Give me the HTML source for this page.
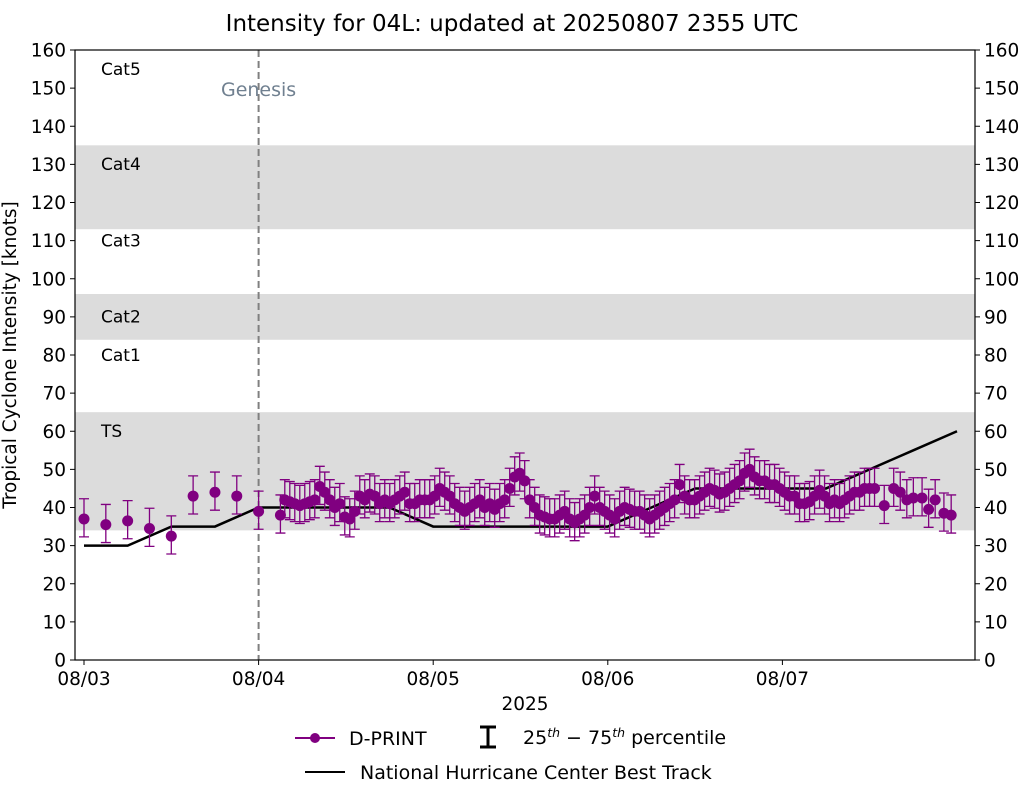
<!DOCTYPE html>
<html><head><meta charset="utf-8"><style>
body{margin:0;background:#fff;font-family:"Liberation Sans","DejaVu Sans",sans-serif;}
svg text{font-family:"DejaVu Sans","Liberation Sans",sans-serif;}
</style></head><body>
<svg id="c" width="1025" height="785" xmlns="http://www.w3.org/2000/svg"></svg>
<script>
const yTicks=[0,10,20,30,40,50,60,70,80,90,100,110,120,130,140,150,160];
const xTickDays=[0,1,2,3,4];
const xTickLabels=["08/03","08/04","08/05","08/06","08/07"];
const bands=[[34,65],[84,96],[113,135]];
const catLabels=["TS","Cat1","Cat2","Cat3","Cat4","Cat5"];
const catLabelVals=[59,79,89,109,129,154];
const earlyHours=[0,3,6,9,12,15,18,21,24,27];
const earlyVals=[37,35.5,36.5,34.5,32.5,43,44,43,39,38];
const denseStartHour=27.6, denseStepHour=0.687;
const denseVals=[42,41.5,41,40.5,41,41.5,42,45.5,44,42,40,41,37.5,37,39,43,42,43.5,43,41,42,41,42,43,44,41,41,42,42,42,43,45,44,43,41,40,39,40,41,42,40,41,39.5,41,42,45,48,49,47,42,40,38,37.5,37,37,38,39,37,36,37,38,40,43,40,39,38,37,39,40,39.5,39,39,38,37,38,39,40,41,42,46,43,42,42,43,44,45,44.5,43.5,44,45,46,47,49,50,48,47,47,46,46,45,44,43,43,41,41,41.5,43,44.5,43,41,42,41,42,43,44,44,45,45,45];
const lateHours=[110,111.3,112.2,113.1,114,115.2,116.1,117,118.2,119.2];
const lateVals=[40.5,45,44,42,42.5,42.5,39.5,42,38.5,38];
const errLo=4.7, errHi=5.3;
const btHours=[0,6,12,18,24,30,36,42,48,54,60,66,72,78,84,90,96,102,108,114,120];
const btVals=[30,30,35,35,40,40,40,40,35,35,35,35,35,40,45,45,45,45,50,55,60];

const svg=document.getElementById('c');
const NS='http://www.w3.org/2000/svg';
const L=75,R=975,T=50,B=660;
const X0=84,PXD=174.6;
const xs=h=>X0+h/24*PXD;
const ys=v=>B-(v/160)*(B-T);
function mk(tag,attrs,parent){const e=document.createElementNS(NS,tag);for(const k in attrs)e.setAttribute(k,attrs[k]);(parent||svg).appendChild(e);return e;}
function txt(s,attrs,parent){const e=mk('text',attrs,parent);e.textContent=s;return e;}

bands.forEach((b,i)=>{const r=mk('rect',{x:L,y:ys(b[1]),width:R-L,height:ys(b[0])-ys(b[1]),fill:'#dcdcdc'});

});
catLabels.forEach((c,i)=>{const t=txt(c,{x:101,y:ys(catLabelVals[i])+2,'font-size':17,fill:'#000'});

});
const gl=mk('line',{x1:xs(24),x2:xs(24),y1:T,y2:B,stroke:'#808080','stroke-width':2,'stroke-dasharray':'7,4'});


const gt=txt('Genesis',{x:xs(24),y:96,'font-size':19,fill:'#708090','text-anchor':'middle'});



const bt=mk('polyline',{points:btHours.map((h,i)=>xs(h)+','+ys(btVals[i])).join(' '),fill:'none',stroke:'#000','stroke-width':2.5});



const pts=[];
earlyHours.forEach((h,i)=>pts.push([h,earlyVals[i]]));
denseVals.forEach((v,i)=>pts.push([denseStartHour+i*denseStepHour,v]));
lateHours.forEach((h,i)=>pts.push([h,lateVals[i]]));
const dg=mk('g',{});


pts.sort((a,b)=>a[0]-b[0]);
pts.forEach(p=>{const x=xs(p[0]),y1=ys(p[1]+errHi),y2=ys(p[1]-errLo);
const e=mk('path',{d:`M${x},${y1}V${y2}M${x-5},${y1}H${x+5}M${x-5},${y2}H${x+5}`,stroke:'#800080','stroke-width':1.3,fill:'none'},dg);

});
pts.forEach(p=>{const c=mk('circle',{cx:xs(p[0]),cy:ys(p[1]),r:5.5,fill:'#800080'},dg);

});

const fr=mk('rect',{x:L,y:T,width:R-L,height:B-T,fill:'none',stroke:'#000','stroke-width':1.2});


yTicks.forEach(v=>{const y=ys(v);
mk('line',{x1:L-5,x2:L,y1:y,y2:y,stroke:'#000'});mk('line',{x1:R,x2:R+5,y1:y,y2:y,stroke:'#000'});
const a=txt(String(v),{x:L-9,y:y+6.5,'font-size':18.5,'text-anchor':'end'});


const b=txt(String(v),{x:R+9,y:y+6.5,'font-size':18.5});

});
xTickDays.forEach((d,i)=>{const x=xs(d*24);mk('line',{x1:x,x2:x,y1:B,y2:B+5,stroke:'#000'});
const t=txt(xTickLabels[i],{x:x,y:685,'font-size':18.5,'text-anchor':'middle'});

});
</script>
<svg width="1025" height="785" style="position:absolute;left:0;top:0" xmlns="http://www.w3.org/2000/svg">
<text x="512" y="31" font-size="23" text-anchor="middle" font-family="DejaVu Sans">Intensity for 04L: updated at 20250807 2355 UTC</text>
<text x="525" y="710" font-size="18.5" text-anchor="middle" font-family="DejaVu Sans">2025</text>
<text transform="translate(16,355) rotate(-90)" font-size="18.5" text-anchor="middle" font-family="DejaVu Sans">Tropical Cyclone Intensity [knots]</text>
<g font-family="DejaVu Sans" font-size="19">
<line x1="295" x2="335" y1="738" y2="738" stroke="#800080" stroke-width="2"/>
<circle cx="315" cy="738" r="5" fill="#800080"/>
<text x="349" y="745">D-PRINT</text>
<path d="M488,727V747M480,727H496M480,747H496" stroke="#000" stroke-width="3" fill="none"/>
<text x="523" y="744">25<tspan font-size="12.5" dy="-7" font-style="italic">th</tspan><tspan dy="7"> − 75</tspan><tspan font-size="12.5" dy="-7" font-style="italic">th</tspan><tspan dy="7"> percentile</tspan></text>
<line x1="305" x2="345" y1="772" y2="772" stroke="#000" stroke-width="2"/>
<text x="360" y="779">National Hurricane Center Best Track</text>
</g>
</svg>
</body></html>
